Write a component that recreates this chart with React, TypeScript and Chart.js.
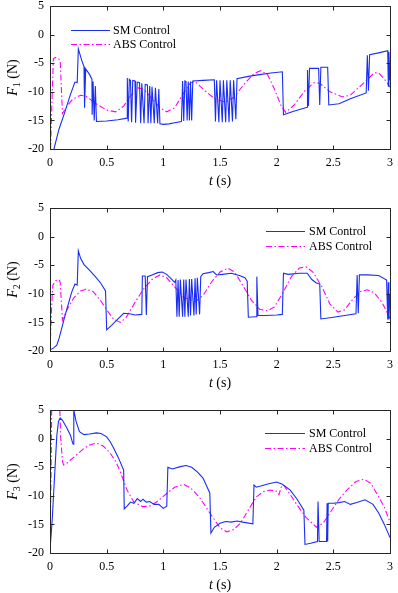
import React, { useEffect, useRef } from 'react';
import { Chart, registerables } from 'chart.js';
Chart.register(...registerables);

type P = [number, number];

const xTicks = [0, 0.5, 1, 1.5, 2, 2.5, 3];
const yTicks = [-20, -15, -10, -5, 0, 5];
const seriesNames = ['SM Control', 'ABS Control'];
const subscripts = ['1', '2', '3'];
const xTitle = ['t', ' (s)'];
const yUnit = ' (N)';

const f1SM: P[] = [
  [0.035, -20], [0.08, -16.5], [0.13, -13.6], [0.18, -10.5], [0.22, -8.3], [0.24, -8.4], [0.25, -2.5],
  [0.28, -4.5], [0.3, -5.6], [0.305, -12.8], [0.315, -6], [0.35, -7], [0.37, -7.8], [0.372, -14],
  [0.38, -8.2], [0.39, -15], [0.4, -9], [0.41, -15.2], [0.5, -15.1], [0.6, -14.9], [0.68, -14.6],
  [0.682, -7.6], [0.69, -15.2], [0.7, -7.8], [0.71, -8], [0.72, -15.3], [0.73, -8], [0.75, -8.1],
  [0.755, -15.4], [0.77, -8.3], [0.79, -8.4], [0.8, -15.5], [0.81, -8.5], [0.83, -15.5], [0.84, -8.7],
  [0.86, -8.8], [0.865, -15.5], [0.88, -9], [0.89, -15.5], [0.9, -9.1], [0.92, -15.5], [0.93, -9.3],
  [0.95, -15.5], [0.96, -9.5], [0.97, -15.6], [1.0, -15.7], [1.05, -15.6], [1.1, -15.4], [1.16, -15.2],
  [1.17, -8.1], [1.18, -15.1], [1.19, -8.1], [1.2, -8.2], [1.21, -15], [1.22, -8.2], [1.23, -15],
  [1.24, -8.2], [1.25, -15], [1.26, -8.1], [1.35, -8], [1.45, -7.9], [1.46, -15.2], [1.47, -8],
  [1.49, -15.3], [1.5, -8], [1.52, -15.3], [1.53, -8], [1.55, -15.3], [1.56, -8], [1.58, -15.3],
  [1.59, -8], [1.61, -15.2], [1.62, -8], [1.64, -14.8], [1.65, -7.7], [1.75, -7.3], [1.85, -7],
  [1.95, -6.7], [2.05, -6.5], [2.06, -14], [2.15, -13.4], [2.27, -12.7], [2.272, -6.2], [2.28, -12.5],
  [2.29, -5.9], [2.37, -5.9], [2.38, -12.3], [2.39, -5.7], [2.45, -5.7], [2.46, -12.3], [2.55, -12.1],
  [2.65, -11.2], [2.79, -10.2], [2.8, -3.6], [2.81, -9.8], [2.82, -3.5], [2.9, -3.2], [2.98, -2.8],
  [2.985, -9], [2.99, -3], [3, -8],
];
const f1ABS: P[] = [
  [0.005, -20], [0.02, -10], [0.03, -4.2], [0.05, -4], [0.08, -4.3], [0.09, -4.6], [0.11, -13.8],
  [0.15, -12.5], [0.2, -11.3], [0.27, -10.6], [0.32, -10.8], [0.4, -12], [0.5, -13.2], [0.58, -13.5],
  [0.65, -12.5], [0.72, -10.5], [0.78, -9.3], [0.83, -9.6], [0.9, -11.2], [0.97, -12.8], [1.03, -13.5],
  [1.1, -12.8], [1.17, -10.5], [1.24, -8.4], [1.28, -8.2], [1.35, -9.5], [1.45, -11.2], [1.55, -11.8],
  [1.62, -11], [1.72, -8.5], [1.8, -6.8], [1.86, -6.3], [1.92, -7], [1.98, -9.5], [2.04, -12.5],
  [2.08, -13.6], [2.15, -12.4], [2.25, -9.8], [2.33, -8.4], [2.38, -8.5], [2.47, -10], [2.58, -10.9],
  [2.65, -10.6], [2.75, -8.8], [2.86, -6.7], [2.9, -6.7], [2.96, -8], [3, -9.2],
];
const f2SM: P[] = [
  [0, -19.8], [0.03, -19.5], [0.06, -19], [0.08, -17.8], [0.1, -16.3], [0.13, -14], [0.16, -11.9],
  [0.19, -9.8], [0.22, -8.3], [0.24, -8.5], [0.25, -2.5], [0.27, -3.8], [0.3, -4.9], [0.35, -5.9],
  [0.4, -7], [0.45, -8.2], [0.49, -9.5], [0.5, -16.3], [0.55, -15.4], [0.6, -14.4], [0.63, -13.8],
  [0.65, -13.4], [0.7, -13.5], [0.75, -13.7], [0.81, -13.6], [0.815, -6.9], [0.84, -6.9], [0.85, -13.7],
  [0.86, -7], [0.9, -6.7], [0.95, -6.3], [0.99, -6.2], [1.03, -6.6], [1.07, -7.4], [1.1, -8],
  [1.11, -7.6], [1.12, -14], [1.13, -7.6], [1.14, -14], [1.15, -7.5], [1.17, -14], [1.18, -7.5],
  [1.19, -14], [1.2, -7.5], [1.22, -14], [1.23, -7.4], [1.24, -13.8], [1.25, -7.4], [1.27, -13.8],
  [1.28, -7.3], [1.29, -13.6], [1.3, -7.2], [1.32, -13.6], [1.33, -7], [1.35, -6.5], [1.4, -6.3],
  [1.44, -6.1], [1.47, -6.7], [1.52, -6.6], [1.6, -6.4], [1.67, -6.8], [1.72, -7.2], [1.74, -7.8],
  [1.75, -14.1], [1.82, -14], [1.825, -7], [1.835, -13.8], [1.9, -13.8], [2.0, -13.7], [2.05, -13.6],
  [2.06, -6.4], [2.1, -6.6], [2.2, -6.4], [2.27, -6.4], [2.31, -7.5], [2.35, -8.1], [2.38, -8.3],
  [2.39, -14.4], [2.5, -14.1], [2.6, -13.8], [2.7, -13.5], [2.71, -6.7], [2.72, -13.4], [2.73, -6.7],
  [2.8, -6.7], [2.9, -6.8], [2.97, -7.6], [2.98, -14.5], [2.985, -8], [2.99, -14.5], [3, -10],
];
const f2ABS: P[] = [
  [0, -20], [0.015, -12], [0.025, -8.5], [0.05, -7.7], [0.08, -7.5], [0.09, -8], [0.11, -14.6],
  [0.15, -12.8], [0.21, -10.7], [0.27, -9.5], [0.32, -9.2], [0.38, -9.6], [0.45, -11.3], [0.5, -12.8],
  [0.56, -14.4], [0.62, -15], [0.67, -14.2], [0.75, -11.5], [0.82, -9.3], [0.9, -7.5], [0.97, -6.7],
  [1.03, -7.2], [1.1, -8.8], [1.18, -10.6], [1.28, -11.4], [1.35, -10.3], [1.43, -7.8], [1.5, -6.2],
  [1.57, -5.5], [1.63, -6.2], [1.7, -8.5], [1.78, -11.2], [1.85, -12.7], [1.92, -13], [1.98, -12.3],
  [2.05, -10], [2.13, -7], [2.2, -5.5], [2.26, -5.3], [2.32, -6.2], [2.4, -8.8], [2.47, -11.8],
  [2.54, -13.2], [2.6, -12.8], [2.67, -11], [2.74, -9.6], [2.8, -9.3], [2.86, -9.8], [2.93, -11.5],
  [3, -14.3],
];
const f3SM: P[] = [
  [0, -19.5], [0.02, -14], [0.04, -6.7], [0.06, 0.5], [0.075, 3], [0.09, 3.6], [0.11, 3.2], [0.15, 1.8],
  [0.18, 0.6], [0.2, -0.8], [0.205, -1], [0.21, 5], [0.23, 3], [0.26, 1.2], [0.3, 0.7], [0.35, 0.8],
  [0.41, 1.0], [0.45, 0.9], [0.5, 0.3], [0.53, -0.5], [0.56, -1.6], [0.6, -3.2], [0.65, -5.5],
  [0.655, -12.3], [0.68, -11.8], [0.71, -11.1], [0.74, -11.3], [0.77, -10.5], [0.8, -11], [0.82, -10.6],
  [0.85, -11.1], [0.88, -11], [0.92, -11.5], [0.96, -11.5], [1.0, -12.2], [1.03, -11.8], [1.04, -5],
  [1.08, -5.3], [1.15, -4.9], [1.2, -4.7], [1.25, -5], [1.3, -5.8], [1.35, -6.9], [1.41, -9.5],
  [1.42, -16.5], [1.45, -15.5], [1.5, -14.8], [1.55, -14.5], [1.6, -14.6], [1.65, -14.4], [1.7, -14.6],
  [1.79, -14.9], [1.8, -8.1], [1.82, -8.5], [1.86, -8.3], [1.93, -7.9], [2.0, -7.6], [2.05, -8],
  [2.12, -9], [2.18, -10.6], [2.24, -12.5], [2.25, -18.5], [2.3, -18.3], [2.36, -18], [2.365, -11],
  [2.375, -18], [2.44, -18], [2.445, -11.3], [2.45, -18], [2.455, -11.3], [2.5, -11.3], [2.55, -11.2],
  [2.6, -11], [2.65, -11.5], [2.7, -11.2], [2.78, -10.7], [2.85, -11.5], [2.9, -13], [2.95, -15],
  [3, -17.3],
];
const f3ABS: P[] = [
  [0, -20], [0.01, -5], [0.015, 6], [0.085, 6], [0.095, 0], [0.11, -4], [0.12, -4.6], [0.15, -4.3],
  [0.2, -3.4], [0.25, -2.6], [0.3, -1.7], [0.35, -1.1], [0.41, -0.8], [0.47, -1.3], [0.53, -2.5],
  [0.58, -4], [0.62, -5.8], [0.68, -9], [0.74, -11.1], [0.82, -11.9], [0.88, -11.8], [0.94, -11.1],
  [1.03, -9.6], [1.1, -8.5], [1.18, -8], [1.24, -8.6], [1.32, -10.3], [1.41, -13], [1.5, -15.6],
  [1.56, -16.3], [1.62, -15.9], [1.68, -14.8], [1.75, -12.5], [1.82, -10.2], [1.88, -9.3], [1.94, -9],
  [2.0, -9.2], [2.02, -9.8], [2.04, -8.5], [2.06, -8.1], [2.12, -9.8], [2.18, -11.6], [2.26, -13.8],
  [2.35, -15.5], [2.41, -14.8], [2.47, -13.0], [2.55, -10.6], [2.62, -9], [2.7, -7.5], [2.77, -7.1],
  [2.83, -7.8], [2.88, -9.5], [2.95, -12], [3, -14.6],
];

const SERIF = '"Liberation Serif", "Times New Roman", serif';
const BLUE = 'rgb(25,45,245)';
const MAGENTA = 'rgb(255,0,255)';
const AXIS = '#262626';

type Panel = {
  top: number; height: number; areaTop: number; axisH: number;
  sub: string; sm: P[]; abs: P[];
  lx0: number; lx1: number; tx: number; ly1: number; ly2: number;
};

const panels: Panel[] = [
  { top: 0, height: 195, areaTop: 6, axisH: 46, sub: subscripts[0], sm: f1SM, abs: f1ABS, lx0: 71, lx1: 110, tx: 113, ly1: 30, ly2: 44 },
  { top: 195, height: 198, areaTop: 13, axisH: 42, sub: subscripts[1], sm: f2SM, abs: f2ABS, lx0: 266, lx1: 305, tx: 309, ly1: 36, ly2: 51 },
  { top: 393, height: 200, areaTop: 17, axisH: 40, sub: subscripts[2], sm: f3SM, abs: f3ABS, lx0: 265, lx1: 305, tx: 309, ly1: 40, ly2: 55 },
];

function decorPlugin(p: Panel) {
  return {
    id: 'decor',
    afterDraw(chart: any) {
      const ctx: CanvasRenderingContext2D = chart.ctx;
      const a = chart.chartArea;
      const xs = chart.scales.x;
      const ys = chart.scales.y;
      ctx.save();
      ctx.strokeStyle = AXIS;
      ctx.lineWidth = 1;
      const L = Math.round(a.left) + 0.5, R = Math.round(a.right) + 0.5;
      const T = Math.round(a.top) + 0.5, B = Math.round(a.bottom) + 0.5;
      ctx.strokeRect(L, T, R - L, B - T);
      ctx.beginPath();
      for (const v of xTicks) {
        const px = Math.round(xs.getPixelForValue(v)) + 0.5;
        ctx.moveTo(px, B); ctx.lineTo(px, B - 4);
        ctx.moveTo(px, T); ctx.lineTo(px, T + 4);
      }
      for (const v of yTicks) {
        const py = Math.round(ys.getPixelForValue(v)) + 0.5;
        ctx.moveTo(L, py); ctx.lineTo(L + 4, py);
        ctx.moveTo(R, py); ctx.lineTo(R - 4, py);
      }
      ctx.stroke();

      // x title
      ctx.fillStyle = '#000';
      ctx.textBaseline = 'alphabetic';
      ctx.textAlign = 'left';
      const cx = (a.left + a.right) / 2;
      ctx.font = `italic 14px ${SERIF}`;
      const w1 = ctx.measureText(xTitle[0]).width;
      ctx.font = `14px ${SERIF}`;
      const w2 = ctx.measureText(xTitle[1]).width;
      const sx = cx - (w1 + w2) / 2;
      const by = a.bottom + 36;
      ctx.font = `italic 14px ${SERIF}`;
      ctx.fillText(xTitle[0], sx, by);
      ctx.font = `14px ${SERIF}`;
      ctx.fillText(xTitle[1], sx + w1, by);

      // y title (rotated)
      const cy = (a.top + a.bottom) / 2;
      ctx.save();
      ctx.translate(17, cy);
      ctx.rotate(-Math.PI / 2);
      ctx.font = `italic 14px ${SERIF}`;
      const wF = ctx.measureText('F').width;
      ctx.font = `10px ${SERIF}`;
      const wS = ctx.measureText(p.sub).width;
      ctx.font = `14px ${SERIF}`;
      const wU = ctx.measureText(yUnit).width;
      let tx = -(wF + wS + wU) / 2;
      ctx.font = `italic 14px ${SERIF}`;
      ctx.fillText('F', tx, 0);
      tx += wF;
      ctx.font = `10px ${SERIF}`;
      ctx.fillText(p.sub, tx, 3);
      tx += wS;
      ctx.font = `14px ${SERIF}`;
      ctx.fillText(yUnit, tx, 0);
      ctx.restore();

      // legend
      ctx.lineWidth = 1;
      ctx.strokeStyle = BLUE;
      ctx.setLineDash([]);
      ctx.beginPath();
      ctx.moveTo(p.lx0, p.ly1 + 0.5); ctx.lineTo(p.lx1, p.ly1 + 0.5);
      ctx.stroke();
      ctx.strokeStyle = MAGENTA;
      ctx.setLineDash([6, 2.5, 1.5, 2.5]);
      ctx.beginPath();
      ctx.moveTo(p.lx0, p.ly2 + 0.5); ctx.lineTo(p.lx1, p.ly2 + 0.5);
      ctx.stroke();
      ctx.setLineDash([]);
      ctx.font = `12px ${SERIF}`;
      ctx.textBaseline = 'middle';
      ctx.fillStyle = '#000';
      ctx.fillText(seriesNames[0], p.tx, p.ly1 + 1);
      ctx.fillText(seriesNames[1], p.tx, p.ly2 + 1);
      ctx.restore();
    },
  };
}

function PanelChart({ p }: { p: Panel }) {
  const ref = useRef<HTMLCanvasElement>(null);
  useEffect(() => {
    if (!ref.current) return;
    const toXY = (arr: P[]) => arr.map(([x, y]) => ({ x, y }));
    const chart = new Chart(ref.current, {
      type: 'line',
      data: {
        datasets: [
          {
            label: seriesNames[0], data: toXY(p.sm), borderColor: BLUE, borderWidth: 1.1,
            pointRadius: 0, tension: 0, fill: false, clip: 0 as any,
          },
          {
            label: seriesNames[1], data: toXY(p.abs), borderColor: MAGENTA, borderWidth: 1.1,
            borderDash: [6, 2.5, 1.5, 2.5], pointRadius: 0, tension: 0, fill: false, clip: 0 as any,
          },
        ],
      },
      options: {
        animation: false,
        responsive: false,
        events: [],
        layout: { padding: { top: p.areaTop, right: 8, left: 0, bottom: 0 } },
        plugins: { legend: { display: false }, tooltip: { enabled: false } },
        scales: {
          x: {
            type: 'linear', min: 0, max: 3,
            afterBuildTicks: (s: any) => { s.ticks = xTicks.map((v) => ({ value: v })); },
            afterFit: (s: any) => { s.height = p.axisH; s.paddingLeft = 0; s.paddingRight = 0; },
            grid: { display: false, drawTicks: false },
            border: { display: false },
            ticks: {
              padding: 7, color: '#000', font: { family: SERIF, size: 12 }, maxRotation: 0, autoSkip: false,
              callback: (v: any) => String(v),
            },
          },
          y: {
            type: 'linear', min: -20, max: 5,
            afterBuildTicks: (s: any) => { s.ticks = yTicks.map((v) => ({ value: v })); },
            afterFit: (s: any) => { s.width = 50; s.paddingTop = 0; s.paddingBottom = 0; },
            grid: { display: false, drawTicks: false },
            border: { display: false },
            ticks: {
              padding: 6, color: '#000', font: { family: SERIF, size: 12 }, autoSkip: false,
              callback: (v: any) => String(v),
            },
          },
        },
      },
      plugins: [decorPlugin(p)],
    } as any);
    return () => chart.destroy();
  }, [p]);
  return (
    <div style={{ position: 'absolute', left: 0, top: p.top, width: 398, height: p.height }}>
      <canvas ref={ref} width={398} height={p.height} style={{ display: 'block', width: 398, height: p.height }} />
    </div>
  );
}

export default function App() {
  return (
    <div style={{ position: 'fixed', left: 0, top: 0, width: 398, height: 593, background: '#fff' }}>
      {panels.map((p, i) => <PanelChart key={i} p={p} />)}
    </div>
  );
}
